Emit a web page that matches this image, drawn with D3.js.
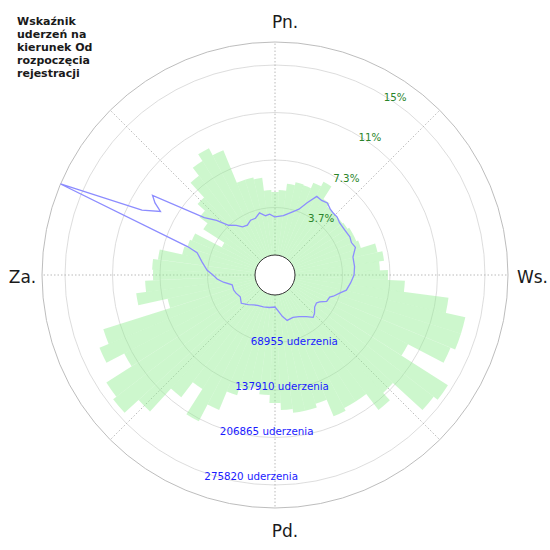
<!DOCTYPE html>
<html>
<head>
<meta charset="utf-8">
<script src="https://cdn.jsdelivr.net/npm/d3@7"></script>
<style>
  html, body { margin: 0; padding: 0; background: #fff; }
  svg { display: block; font-family: "DejaVu Sans", sans-serif; }
</style>
</head>
<body>
<svg id="chart" width="550" height="550"></svg>
<script>
// ---- DATA ----
const titleLines = ["Wskaźnik", "uderzeń na", "kierunek Od", "rozpoczęcia", "rejestracji"];
const directionLabels = ["Pn.", "Ws.", "Pd.", "Za."];
const countTicks = [68955, 137910, 206865, 275820];
const countTickLabels = ["68955 uderzenia", "137910 uderzenia", "206865 uderzenia", "275820 uderzenia"];
const percentTickLabels = ["3.7%", "7.3%", "11%", "15%"];
const radialMax = 309210;

// green bars: compass angle (deg, bin centre) and strike count
const barAngles = d3.range(0, 360, 5);
const barValues = [
  91500, 94400, 104500, 108900, 107400, 116100, 123400, 101600, 95800, 94400,
  94400, 95800, 98700, 98700, 101600, 123400, 130600, 123400, 135000, 159700,
  225000, 254000, 254000, 246800, 188700, 268600, 261300, 203200, 217800, 188700,
  188700, 193100, 167000, 172800, 172800, 167000, 156800, 145400, 136500, 142300,
  153900, 182900, 210500, 167000, 194500, 239500, 267100, 261300, 217800, 246800,
  232300, 130600, 174200, 159700, 148100, 149500, 142300, 108900, 104500, 101600,
  58100, 94400, 108900, 123400, 152400, 167000, 178600, 167000, 116100, 116100,
  113200, 94400
];

// blue line: compass angle (deg) and value
const lineAngles = [
  0, 8, 16, 20, 24, 28, 32, 36, 40, 43, 47, 51, 57, 63, 67, 71, 77, 84, 90, 96,
  102, 105, 110, 112, 117, 121, 124, 129, 134, 138, 143, 150, 157, 165, 170, 175,
  180, 190, 200, 210, 216, 222, 230, 238, 245, 250, 257, 262, 266, 270, 274, 280,
  286, 288, 293, 296, 299, 301, 303, 309, 313, 317, 322, 326, 331, 336, 341, 346,
  351, 355
];
const lineValues = [
  55200, 58100, 66800, 72600, 85700, 100200, 98700, 100200, 95800, 94400, 94400, 91500, 91500, 92900, 91500, 94400, 87100, 87100, 85700, 81300,
  76900, 69700, 61000, 56600, 55200, 46500, 43600, 45000, 50800, 53700, 46500, 40700, 37700, 39200, 31900, 23200,
  17400, 18900, 20300, 21800, 24700, 29000, 34800, 30500, 33400, 34800, 34800, 46500, 55200, 61000, 69700, 78400,
  88600, 104500, 309210, 185800, 161100, 174200, 182900, 103100, 87100, 69700, 62400, 55200, 53700, 58100, 58100, 63900,
  58100, 59500
];

// ---- LAYOUT ----
const cx = 275, cy = 275, innerR = 20, outerR = 233;
const svg = d3.select("#chart");
const g = svg.append("g").attr("transform", `translate(${cx},${cy})`);
const r = d3.scaleLinear().domain([0, radialMax]).range([innerR, outerR]);
const rad = d => d * Math.PI / 180;

// grid circles
g.selectAll("circle.grid").data(countTicks).join("circle")
  .attr("class", "grid").attr("r", d => r(d))
  .attr("fill", "none").attr("stroke", "#d4d4d4").attr("stroke-width", 0.8);
g.append("circle").attr("r", outerR).attr("fill", "none")
  .attr("stroke", "#b5b5b5").attr("stroke-width", 0.9);

// spokes
g.selectAll("line.spoke").data(d3.range(0, 360, 45)).join("line")
  .attr("class", "spoke")
  .attr("x1", d => innerR * Math.sin(rad(d))).attr("y1", d => -innerR * Math.cos(rad(d)))
  .attr("x2", d => outerR * Math.sin(rad(d))).attr("y2", d => -outerR * Math.cos(rad(d)))
  .attr("stroke", "#a8a8a8").attr("stroke-width", 0.8).attr("stroke-dasharray", "1.5,2");

// bars
const arc = d3.arc();
g.selectAll("path.bar").data(barValues).join("path")
  .attr("class", "bar")
  .attr("d", (v, i) => arc({
    innerRadius: innerR, outerRadius: r(v),
    startAngle: rad(barAngles[i] - 2.5), endAngle: rad(barAngles[i] + 2.5)
  }))
  .attr("fill", "#90ee90").attr("fill-opacity", 0.45).attr("stroke", "none");

// blue line
const pts = lineAngles.map((a, i) => [rad(a), r(lineValues[i])]);
g.append("path")
  .attr("d", d3.lineRadial().angle(d => d[0]).radius(d => d[1]).curve(d3.curveLinearClosed)(pts))
  .attr("fill", "none").attr("stroke", "#8c8cff").attr("stroke-width", 1.3);

// inner hole
g.append("circle").attr("r", innerR).attr("fill", "#fff")
  .attr("stroke", "#333").attr("stroke-width", 1);

// percent labels
g.selectAll("text.pct").data(percentTickLabels).join("text")
  .attr("class", "pct")
  .attr("x", (d, i) => (r(countTicks[i]) - 5) * Math.sin(rad(32)))
  .attr("y", (d, i) => -(r(countTicks[i]) - 5) * Math.cos(rad(32)))
  .attr("font-size", 10.3).attr("fill", "#2a842a").text(d => d);

// count labels
g.selectAll("text.cnt").data(countTickLabels).join("text")
  .attr("class", "cnt")
  .attr("x", (d, i) => (r(countTicks[i]) + 7) * Math.sin(rad(199)))
  .attr("y", (d, i) => -(r(countTicks[i]) + 7) * Math.cos(rad(199)))
  .attr("font-size", 10.3).attr("fill", "#1a1aff").text(d => d);

// direction labels
const dirPos = [[10, -247], [257.5, 8], [10, 262], [-252.5, 8]];
g.selectAll("text.dir").data(directionLabels).join("text")
  .attr("class", "dir")
  .attr("x", (d, i) => dirPos[i][0]).attr("y", (d, i) => dirPos[i][1])
  .attr("text-anchor", "middle").attr("font-size", 17).attr("fill", "#1a1a1a")
  .text(d => d);

// title
svg.append("text").attr("x", 17).attr("y", 25)
  .attr("font-size", 11).attr("font-weight", "bold").attr("fill", "#1a1a1a")
  .selectAll("tspan").data(titleLines).join("tspan")
  .attr("x", 17).attr("dy", (d, i) => i === 0 ? 0 : 13).text(d => d);
</script>
</body>
</html>
